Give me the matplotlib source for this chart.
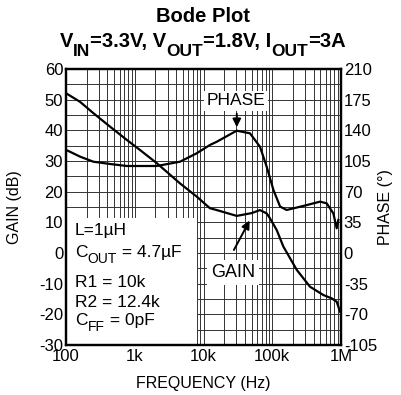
import matplotlib
matplotlib.use("Agg")
import matplotlib.pyplot as plt
from matplotlib.patches import Rectangle
from matplotlib.ticker import FixedLocator, NullFormatter
from matplotlib.transforms import offset_copy

plt.rcParams["font.family"] = ["Liberation Sans", "DejaVu Sans"]
plt.rcParams["axes.unicode_minus"] = False

# gain curve (Hz, dB)
gain_freq = [100, 160, 250, 437, 764, 1190, 2090, 4550, 7960, 12.4e3, 15.6e3,
             30.4e3, 50e3, 66.3e3, 83e3, 92.7e3, 116e3, 145e3, 227e3, 354e3,
             553e3, 733e3, 866e3, 967e3]
gain_db = [52.1, 49.3, 45.6, 41.2, 36.9, 33.6, 29.3, 22.7, 18.4, 14.6, 14.0,
           12.1, 13.0, 14.0, 12.9, 11.3, 7.5, 2.1, -5.5, -11.0,
           -13.7, -14.8, -15.9, -19.1]

# phase curve (Hz, degrees)
phase_freq = [100, 114, 160, 250, 437, 764, 1190, 2090, 4550, 7960, 12.4e3,
              15.6e3, 30.4e3, 47.4e3, 66.3e3, 83e3, 104e3, 130e3, 162e3, 283e3,
              495e3, 619e3, 773e3, 866e3, 914e3]
phase_deg = [117.6, 115.6, 110, 104.2, 101.6, 99.3, 99.3, 99.3, 104.2, 113.8, 123.3,
             127, 139.6, 136.6, 121.3, 98.5, 71.9, 53, 49.1, 53.7,
             58.6, 56.7, 45.3, 28.2, 37.7]

freq_ticks = [100, 1e3, 1e4, 1e5, 1e6]
freq_labels = ["100", "1k", "10k", "100k", "1M"]
gain_ticks = [60, 50, 40, 30, 20, 10, 0, -10, -20, -30]
phase_ticks = [210, 175, 140, 105, 70, 35, 0, -35, -70, -105]
# (text, subscript) pieces
title2 = [("V", 0), ("IN", 1), ("=3.3V, V", 0), ("OUT", 1), ("=1.8V, I", 0),
          ("OUT", 1), ("=3A", 0)]
notes = [[("L=1µH", 0)],
         [("C", 0), ("OUT", 1), (" = 4.7µF", 0)],
         [("R1 = 10k", 0)],
         [("R2 = 12.4k", 0)],
         [("C", 0), ("FF", 1), (" = 0pF", 0)]]

fig = plt.figure(figsize=(4.01, 3.95), dpi=100)
renderer = fig.canvas.get_renderer()


def rich_text(x, y, parts, size, sub_size, sub_drop, transform, center=False, **kw):
    # lay out pieces one after another, subscripts smaller and lowered
    widths = []
    for s, sub in parts:
        t = fig.text(0, 0, s, fontsize=sub_size if sub else size, **kw)
        widths.append(t.get_window_extent(renderer).width * 72 / fig.dpi)
        t.remove()
    dx = -sum(widths) / 2 if center else 0
    for (s, sub), w in zip(parts, widths):
        tr = offset_copy(transform, fig=fig, x=dx, y=-sub_drop if sub else 0, units="points")
        fig.text(x, y, s, fontsize=sub_size if sub else size, transform=tr,
                 va="baseline", ha="left", **kw)
        dx += w


ax = fig.add_axes([0.1646, 0.1266, 0.6858, 0.6987])
ax.set_xscale("log")
ax.set_xlim(100, 1e6)
ax.set_ylim(-30, 60)

# grid: decades + 2..9, every 5 dB
minor_x = [m * d for d in [100, 1e3, 1e4, 1e5] for m in range(2, 10)]
for xv in minor_x + freq_ticks:
    ax.axvline(xv, color="#333333", lw=0.7, zorder=0.5)
for yv in range(-30, 61, 5):
    ax.axhline(yv, color="#333333", lw=0.7, zorder=0.5)

ax.xaxis.set_major_locator(FixedLocator(freq_ticks))
ax.xaxis.set_minor_formatter(NullFormatter())
ax.set_xticks(freq_ticks, freq_labels)
ax.set_yticks(gain_ticks)
ax.tick_params(which="both", length=0, labelsize=12, pad=2)
ax.tick_params(axis="x", pad=3)

ax.plot(gain_freq, gain_db, color="black", lw=1.6, zorder=3)

ax2 = ax.twinx()
ax2.set_ylim(-105, 210)
ax2.set_yticks(phase_ticks)
ax2.tick_params(length=0, labelsize=12, pad=2)
ax2.plot(phase_freq, phase_deg, color="black", lw=1.6, zorder=3)

for a in (ax, ax2):
    for s in a.spines.values():
        s.set_linewidth(1.6)

# parameter box
ax.add_patch(Rectangle((0, 0), 0.476, 0.46, transform=ax.transAxes,
                       facecolor="white", edgecolor="none", zorder=2))
for parts, yb in zip(notes, [0.399, 0.319, 0.21, 0.138, 0.072]):
    rich_text(0.033, yb, parts, 12.5, 10, 4.3, ax.transAxes, zorder=5)

# curve labels
ax.text(3e4, 49.6, "PHASE", fontsize=12.5, ha="center", va="center", zorder=4,
        bbox=dict(facecolor="white", edgecolor="none", pad=2))
ax.annotate("", xy=(3.05e4, 40.1), xytext=(3.05e4, 46.3), zorder=4,
            arrowprops=dict(arrowstyle="-|>", color="black", lw=1.4, mutation_scale=12))
ax.text(2.7e4, -6.3, "GAIN", fontsize=13, ha="center", va="center", zorder=4,
        bbox=dict(facecolor="white", edgecolor="none", pad=3))
ax.annotate("", xy=(4.9e4, 11.4), xytext=(2.65e4, 0.2), zorder=4,
            arrowprops=dict(arrowstyle="-|>", color="black", lw=1.4, mutation_scale=12))

ax.set_xlabel("FREQUENCY (Hz)", fontsize=11.5)
ax.xaxis.set_label_coords(0.5, -0.112)
ax.set_ylabel("GAIN (dB)", fontsize=11.5)
ax.yaxis.set_label_coords(-0.16, 0.5)
ax2.set_ylabel("PHASE (°)", fontsize=11.5)
ax2.yaxis.set_label_coords(1.135, 0.5)

fig.text(0.506, 0.957, "Bode Plot", fontsize=14.5, weight="bold", ha="center", va="center")
rich_text(0.506, 0.881, title2, 14.5, 12.5, 6.5, fig.transFigure, center=True, weight="bold")

fig.savefig("out.png", dpi=100)
